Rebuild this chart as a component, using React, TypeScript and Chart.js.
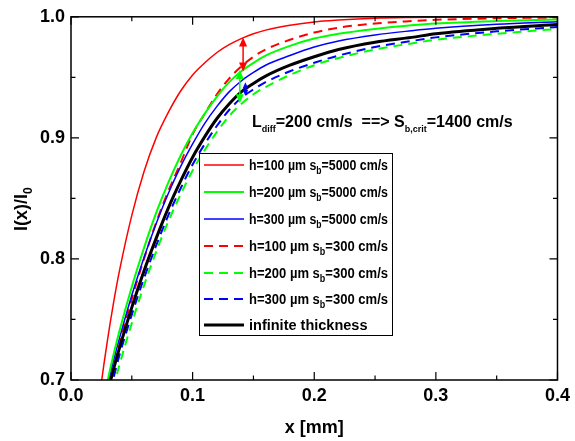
import React, { useEffect, useRef } from "react";
import { Chart, registerables } from "chart.js";

Chart.register(...registerables);

const FONT = "'Liberation Sans', Arial, Helvetica, sans-serif";

// x positions (mm)
const xValues = [0.02, 0.025, 0.03, 0.035, 0.04, 0.05, 0.06, 0.07, 0.08, 0.09, 0.1, 0.11, 0.12, 0.13, 0.14, 0.15, 0.16, 0.18, 0.2, 0.22, 0.25, 0.28, 0.3, 0.35, 0.4];

// h=100 µm, sb=5000 cm/s
const red5000 = [0.658, 0.698, 0.733, 0.764, 0.791, 0.836, 0.872, 0.9, 0.921, 0.9385, 0.952, 0.962, 0.9705, 0.977, 0.982, 0.986, 0.989, 0.993, 0.9958, 0.9973, 0.9988, 0.9994, 0.9996, 0.9999, 1.0];
// h=200 µm, sb=5000 cm/s
const green5000 = [0.648, 0.675, 0.699, 0.721, 0.741, 0.777, 0.809, 0.838, 0.863, 0.885, 0.904, 0.92, 0.934, 0.946, 0.955, 0.962, 0.968, 0.976, 0.982, 0.986, 0.990, 0.993, 0.9945, 0.9965, 0.9977];
// h=300 µm, sb=5000 cm/s
const blue5000 = [0.645, 0.672, 0.695, 0.716, 0.735, 0.77, 0.801, 0.829, 0.854, 0.876, 0.895, 0.912, 0.926, 0.938, 0.947, 0.954, 0.96, 0.968, 0.975, 0.98, 0.985, 0.9885, 0.9905, 0.9938, 0.996];
// h=100 µm, sb=300 cm/s
const red300 = [0.63, 0.66, 0.686, 0.709, 0.73, 0.767, 0.8, 0.83, 0.856, 0.879, 0.903, 0.92, 0.936, 0.949, 0.959, 0.967, 0.973, 0.981, 0.987, 0.991, 0.9945, 0.9965, 0.9975, 0.9988, 0.9994];
// h=200 µm, sb=300 cm/s
const green300 = [0.62, 0.648, 0.672, 0.694, 0.713, 0.747, 0.778, 0.806, 0.831, 0.853, 0.873, 0.89, 0.905, 0.918, 0.928, 0.936, 0.942, 0.952, 0.96, 0.966, 0.973, 0.978, 0.981, 0.986, 0.99];
// h=300 µm, sb=300 cm/s
const blue300 = [0.63, 0.657, 0.681, 0.702, 0.721, 0.754, 0.784, 0.811, 0.836, 0.858, 0.878, 0.895, 0.91, 0.923, 0.933, 0.94, 0.946, 0.955, 0.962, 0.968, 0.975, 0.98, 0.983, 0.988, 0.9915];
// infinite thickness
const infinite = [0.64, 0.666, 0.689, 0.709, 0.727, 0.76, 0.79, 0.817, 0.842, 0.864, 0.884, 0.901, 0.916, 0.928, 0.938, 0.945, 0.951, 0.96, 0.967, 0.973, 0.979, 0.983, 0.986, 0.9905, 0.9937];

const seriesLabels = [
  "h=100 µm s_{b}=5000 cm/s",
  "h=200 µm s_{b}=5000 cm/s",
  "h=300 µm s_{b}=5000 cm/s",
  "h=100 µm s_{b}=300 cm/s",
  "h=200 µm s_{b}=300 cm/s",
  "h=300 µm s_{b}=300 cm/s",
  "infinite thickness",
];

const xTicks = [0, 0.1, 0.2, 0.3, 0.4];
const xMinorTicks = [0.05, 0.15, 0.25, 0.35];
const yTicks = [0.7, 0.8, 0.9, 1.0];
const yMinorTicks = [0.75, 0.85, 0.95];

// vertical difference arrows at x, from top value to bottom value
const arrowX = [0.1415, 0.1388, 0.1434];
const arrowTop = [0.983, 0.956, 0.946];
const arrowBottom = [0.9548, 0.9285, 0.9345];
const arrowColors = ["#FF0000", "#00FF00", "#0000FF"];

const yTitle = "I(x)/I_{0}";
const annotationText = "L_{diff}=200 cm/s  ==> S_{b,crit}=1400 cm/s";

function parseRich(text: string) {
  const parts: { t: string; sub: boolean }[] = [];
  const re = /_\{([^}]*)\}/g;
  let last = 0;
  let m: RegExpExecArray | null;
  while ((m = re.exec(text))) {
    if (m.index > last) parts.push({ t: text.slice(last, m.index), sub: false });
    parts.push({ t: m[1], sub: true });
    last = re.lastIndex;
  }
  if (last < text.length) parts.push({ t: text.slice(last), sub: false });
  return parts;
}

function drawRich(ctx: CanvasRenderingContext2D, text: string, x: number, y: number, size: number, subSize: number, subShift: number, maxWidth?: number) {
  const parts = parseRich(text);
  let total = 0;
  for (const p of parts) {
    ctx.font = `bold ${p.sub ? subSize : size}px ${FONT}`;
    total += ctx.measureText(p.t).width;
  }
  const k = maxWidth && total > maxWidth ? maxWidth / total : 1;
  ctx.save();
  ctx.translate(x, y);
  ctx.scale(k, 1);
  let cx = 0;
  for (const p of parts) {
    ctx.font = `bold ${p.sub ? subSize : size}px ${FONT}`;
    ctx.fillText(p.t, cx, p.sub ? subShift : 0);
    cx += ctx.measureText(p.t).width;
  }
  ctx.restore();
  return total * k;
}

function arrowHead(ctx: CanvasRenderingContext2D, x: number, tipY: number, dir: number, len: number, half: number) {
  ctx.beginPath();
  ctx.moveTo(x, tipY);
  ctx.lineTo(x - half, tipY + dir * len);
  ctx.lineTo(x + half, tipY + dir * len);
  ctx.closePath();
  ctx.fill();
}

const decorPlugin = {
  id: "decor",
  afterDatasetsDraw(chart: any) {
    const ctx: CanvasRenderingContext2D = chart.ctx;
    const xs = chart.scales.x;
    const ys = chart.scales.y;
    const area = chart.chartArea;
    ctx.save();
    // arrows
    for (let i = 0; i < arrowX.length; i++) {
      const px = xs.getPixelForValue(arrowX[i]);
      const pt = ys.getPixelForValue(arrowTop[i]);
      const pb = ys.getPixelForValue(arrowBottom[i]);
      ctx.strokeStyle = arrowColors[i];
      ctx.fillStyle = arrowColors[i];
      ctx.lineWidth = 1.5;
      const len = Math.min(9, (pb - pt) / 2.2);
      const half = len * 0.45;
      ctx.beginPath();
      ctx.moveTo(px, pt + len * 0.5);
      ctx.lineTo(px, pb - len * 0.5);
      ctx.stroke();
      arrowHead(ctx, px, pt, 1, len, half);
      arrowHead(ctx, px, pb, -1, len, half);
    }
    // frame
    ctx.strokeStyle = "#000";
    ctx.lineWidth = 1.5;
    ctx.strokeRect(area.left, area.top, area.right - area.left, area.bottom - area.top);
    ctx.lineWidth = 1.2;
    const tick = (v: number, major: boolean, horiz: boolean) => {
      const L = major ? 8 : 4.5;
      ctx.beginPath();
      if (horiz) {
        const p = xs.getPixelForValue(v);
        ctx.moveTo(p, area.bottom);
        ctx.lineTo(p, area.bottom - L);
        ctx.moveTo(p, area.top);
        ctx.lineTo(p, area.top + L);
      } else {
        const p = ys.getPixelForValue(v);
        ctx.moveTo(area.left, p);
        ctx.lineTo(area.left + L, p);
        ctx.moveTo(area.right, p);
        ctx.lineTo(area.right - L, p);
      }
      ctx.stroke();
    };
    xTicks.forEach((v) => tick(v, true, true));
    xMinorTicks.forEach((v) => tick(v, false, true));
    yTicks.forEach((v) => tick(v, true, false));
    yMinorTicks.forEach((v) => tick(v, false, false));

    // annotation
    ctx.fillStyle = "#000";
    ctx.textBaseline = "alphabetic";
    ctx.textAlign = "left";
    drawRich(ctx, annotationText, 252, 127, 16, 9, 5, 265);

    // legend
    const lx = 199.5, ly = 153.5, lw = 193, lh = 182;
    ctx.fillStyle = "#fff";
    ctx.fillRect(lx, ly, lw, lh);
    ctx.strokeStyle = "#000";
    ctx.lineWidth = 1;
    ctx.strokeRect(lx, ly, lw, lh);
    const rows = [165, 192, 219, 246, 273, 299, 325];
    chart.data.datasets.forEach((ds: any, i: number) => {
      const y = rows[i];
      ctx.save();
      ctx.strokeStyle = ds.borderColor;
      ctx.lineWidth = ds.borderWidth;
      ctx.setLineDash(ds.borderDash || []);
      ctx.beginPath();
      ctx.moveTo(204, y);
      ctx.lineTo(244, y);
      ctx.stroke();
      ctx.restore();
      ctx.fillStyle = "#000";
      drawRich(ctx, ds.label, 249, y + 5, 14.5, 10, 4, 139);
    });

    // y axis title
    ctx.save();
    ctx.translate(27, 231);
    ctx.rotate(-Math.PI / 2);
    ctx.fillStyle = "#000";
    drawRich(ctx, yTitle, 0, 0, 18, 12, 5);
    ctx.restore();
    ctx.restore();
  },
};

export default function App() {
  const ref = useRef<HTMLCanvasElement | null>(null);
  useEffect(() => {
    if (!ref.current) return;
    const mk = (data: number[]) => xValues.map((x, i) => ({ x, y: data[i] }));
    const styles = [
      { c: "#FF0000", w: 1.5, d: [] as number[] },
      { c: "#00FF00", w: 2, d: [] },
      { c: "#0000FF", w: 1.5, d: [] },
      { c: "#FF0000", w: 2, d: [9, 6] },
      { c: "#00FF00", w: 2, d: [9, 6] },
      { c: "#0000FF", w: 2, d: [9, 6] },
      { c: "#000000", w: 3, d: [] },
    ];
    const all = [red5000, green5000, blue5000, red300, green300, blue300, infinite];
    const chart = new Chart(ref.current, {
      type: "line",
      data: {
        datasets: all.map((d, i) => ({
          label: seriesLabels[i],
          data: mk(d),
          borderColor: styles[i].c,
          backgroundColor: styles[i].c,
          borderWidth: styles[i].w,
          borderDash: styles[i].d,
          pointRadius: 0,
          fill: false,
          cubicInterpolationMode: "monotone",
          clip: 0,
          order: i === 6 ? 0 : 1,
        })),
      },
      options: {
        responsive: false,
        animation: false,
        layout: { padding: { left: 0, right: 14, top: 15, bottom: 0 } },
        plugins: { legend: { display: false }, tooltip: { enabled: false } },
        scales: {
          x: {
            type: "linear",
            min: 0,
            max: 0.4,
            afterFit: (s: any) => { s.height = 61; },
            ticks: {
              stepSize: 0.1,
              padding: 5,
              color: "#000",
              maxRotation: 0,
              font: { family: FONT, size: 18, weight: "bold" },
              callback: (v: any) => Number(v).toFixed(1),
            },
            grid: { display: false, drawTicks: false },
            border: { display: false },
            title: { display: true, text: "x [mm]", color: "#000", font: { family: FONT, size: 18, weight: "bold" }, padding: { top: 0, bottom: 2 } },
          },
          y: {
            type: "linear",
            min: 0.7,
            max: 1.0,
            afterFit: (s: any) => { s.width = 71; },
            ticks: {
              stepSize: 0.1,
              padding: 6,
              color: "#000",
              font: { family: FONT, size: 18, weight: "bold" },
              callback: (v: any) => Number(v).toFixed(1),
            },
            grid: { display: false, drawTicks: false },
            border: { display: false },
          },
        },
      },
      plugins: [decorPlugin],
    });
    return () => chart.destroy();
  }, []);
  return (
    <div style={{ position: "fixed", left: 0, top: 0, width: 575, height: 441, background: "#fff" }}>
      <canvas ref={ref} width={575} height={441} />
    </div>
  );
}
